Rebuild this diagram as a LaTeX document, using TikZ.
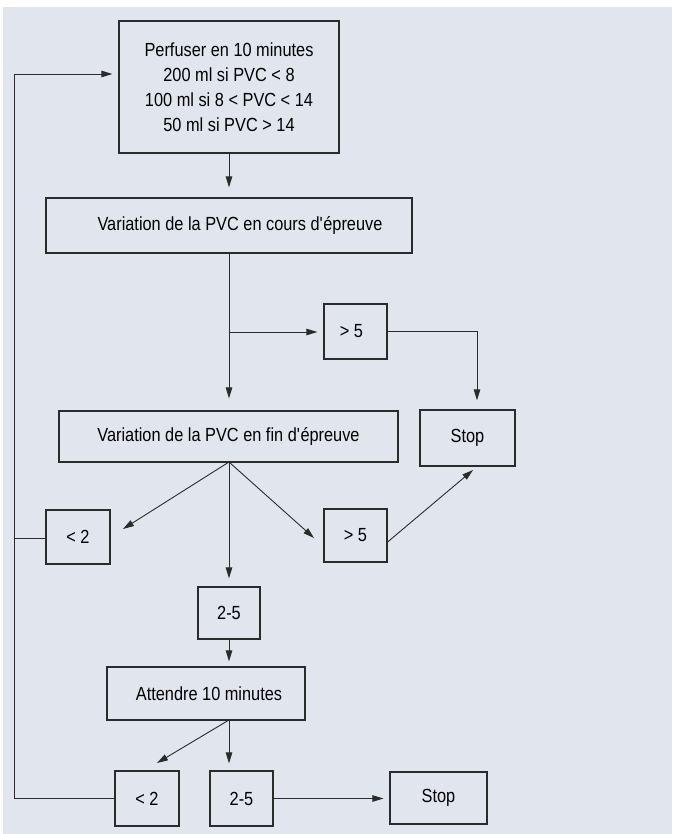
\documentclass[tikz,border=0pt]{standalone}
\usepackage{fontspec}
\setmainfont{Liberation Sans}[FakeStretch=0.86]
\usetikzlibrary{arrows.meta}
\definecolor{bgc}{HTML}{E1E6EE}
\definecolor{lnc}{HTML}{2B2B2B}
\begin{document}
\begin{tikzpicture}[x=1pt,y=-1pt,
  box/.style={draw=lnc,line width=1.2pt,rectangle,inner sep=0pt,align=center,
    font=\fontsize{19}{25}\selectfont,text=black},
  conn/.style={draw=lnc,line width=0.9pt},
  arr/.style={conn,-{Triangle[length=11pt,width=6.5pt]}}]
\useasboundingbox (0,0) rectangle (672,834);
\fill[white] (0,0) rectangle (672,834);
\fill[bgc] (3,7) rectangle (672,834);
% nodes
\node[box,minimum width=220pt,minimum height=132pt] (perf) at (229,87)
  {Perfuser en 10 minutes\\200 ml si PVC < 8\\100 ml si 8 < PVC < 14\\50 ml si PVC > 14};
\node[box,minimum width=366pt,minimum height=55pt] (cours) at (229,225.5)
  {\hspace*{22pt}Variation de la PVC en cours d\textquotesingle épreuve};
\node[box,minimum width=63pt,minimum height=55pt] (gta) at (355.5,331.5) {\hspace*{-8pt}> 5};
\node[box,minimum width=95pt,minimum height=56pt] (stopa) at (467.5,438) {Stop};
\node[box,minimum width=339pt,minimum height=51pt] (fin) at (228.5,436.5)
  {Variation de la PVC en fin d\textquotesingle épreuve};
\node[box,minimum width=64pt,minimum height=54pt] (lta) at (78,537) {< 2};
\node[box,minimum width=63pt,minimum height=53pt] (gtb) at (355.5,535.5) {> 5};
\node[box,minimum width=62pt,minimum height=52pt] (dra) at (229,613) {2-5};
\node[box,minimum width=198pt,minimum height=53pt] (att) at (206,693.5)
  {\hspace*{6pt}Attendre 10 minutes};
\node[box,minimum width=64pt,minimum height=55pt] (ltb) at (147,798.5) {< 2};
\node[box,minimum width=63pt,minimum height=55pt] (drb) at (241.5,798.5) {2-5};
\node[box,minimum width=97pt,minimum height=52pt] (stopb) at (438.5,798) {Stop};
% helper coordinates
\coordinate (lc) at (14.5,74);
\coordinate (br) at (229,332);
\coordinate (fs) at (229,462);
\coordinate (t1) at (123,529);
\coordinate (t2) at (314,538);
\coordinate (t3) at (473,470);
\coordinate (as) at (229,720);
\coordinate (t4) at (157,763);
% connectors
\draw[arr,shorten >=10pt] (perf.south) -- (cours.north);
\draw[arr,shorten >=12pt] (cours.south) -- (cours.south |- fin.north);
\draw[arr,shorten >=6pt] (br) -- (br -| gta.west);
\draw[arr,shorten >=9pt] ([yshift=0.5pt]gta.east) -| ([xshift=9.5pt]stopa.north);
\draw[arr] (fs) -- (t1);
\draw[arr] (fs) -- (t2);
\draw[arr,shorten >=8pt] (fs) -- (fs |- dra.north);
\draw[arr] ([yshift=-6.5pt]gtb.east) -- (t3);
\draw[conn] ([yshift=-1pt]lta.west) -- ([yshift=-1pt]lta.west -| lc);
\draw[arr,shorten >=6pt] (ltb.west) -| (lc) -- (lc -| perf.west);
\draw[arr,shorten >=5pt] (dra.south) -- (dra.south |- att.north);
\draw[arr,shorten >=7pt] (as) -- (as |- drb.north);
\draw[arr] (as) -- (t4);
\draw[arr,shorten >=6pt] (drb.east) -- (drb.east -| stopb.west);
\end{tikzpicture}
\end{document}
